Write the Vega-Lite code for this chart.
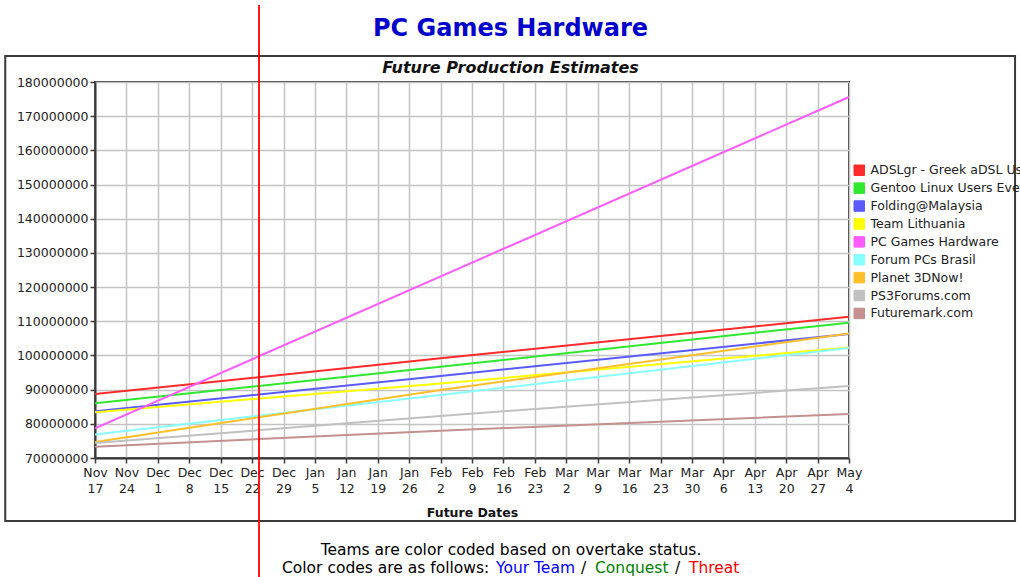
{
  "$schema": "https://vega.github.io/schema/vega-lite/v6.json",
  "width": 754,
  "height": 376,
  "autosize": "none",
  "padding": {"left": 95, "top": 82, "right": 171, "bottom": 119},
  "background": "white",
  "title": {
    "text": "PC Games Hardware",
    "subtitle": "Future Production Estimates",
    "anchor": "middle",
    "frame": "group",
    "dx": 38.5,
    "offset": -72,
    "font": "DejaVu Sans",
    "fontSize": 24,
    "fontWeight": "bold",
    "color": "#0000cc",
    "subtitleFont": "DejaVu Sans",
    "subtitleFontSize": 16,
    "subtitleFontWeight": "bold",
    "subtitleFontStyle": "italic",
    "subtitleColor": "#111111",
    "subtitlePadding": 19
  },
  "layer": [
    {
      "data": {"values": [{"frame": "box"}]},
      "mark": {"type": "rect", "fill": "white", "fillOpacity": 0, "stroke": "#3a3a3a", "strokeWidth": 2},
      "encoding": {
        "x": {"datum": {"year": 2008, "month": 10, "date": 28, "utc": true}, "type": "temporal"},
        "x2": {"datum": {"year": 2009, "month": 6, "date": 10, "utc": true}},
        "y": {"datum": 187600000, "type": "quantitative"},
        "y2": {"datum": 51600000}
      }
    },
    {
      "data": {
        "values": [
          {"team": "ADSLgr - Greek aDSL Users", "date": "2008-11-17", "value": 88700000},
          {"team": "ADSLgr - Greek aDSL Users", "date": "2009-02-02", "value": 99150000},
          {"team": "ADSLgr - Greek aDSL Users", "date": "2009-05-04", "value": 111300000},
          {"team": "Gentoo Linux Users Everywhere", "date": "2008-11-17", "value": 86000000},
          {"team": "Gentoo Linux Users Everywhere", "date": "2009-02-02", "value": 96700000},
          {"team": "Gentoo Linux Users Everywhere", "date": "2009-05-04", "value": 109600000},
          {"team": "Folding@Malaysia", "date": "2008-11-17", "value": 83700000},
          {"team": "Folding@Malaysia", "date": "2009-02-02", "value": 94000000},
          {"team": "Folding@Malaysia", "date": "2009-05-04", "value": 106300000},
          {"team": "Team Lithuania", "date": "2008-11-17", "value": 83400000},
          {"team": "Team Lithuania", "date": "2009-02-02", "value": 91800000},
          {"team": "Team Lithuania", "date": "2009-05-04", "value": 102300000},
          {"team": "PC Games Hardware", "date": "2008-11-17", "value": 78700000},
          {"team": "PC Games Hardware", "date": "2009-05-04", "value": 175600000},
          {"team": "Forum PCs Brasil", "date": "2008-11-17", "value": 76900000},
          {"team": "Forum PCs Brasil", "date": "2009-02-02", "value": 88400000},
          {"team": "Forum PCs Brasil", "date": "2009-05-04", "value": 102200000},
          {"team": "Planet 3DNow!", "date": "2008-11-17", "value": 74700000},
          {"team": "Planet 3DNow!", "date": "2009-02-02", "value": 89900000},
          {"team": "Planet 3DNow!", "date": "2009-05-04", "value": 106400000},
          {"team": "PS3Forums.com", "date": "2008-11-17", "value": 74400000},
          {"team": "PS3Forums.com", "date": "2009-02-02", "value": 82300000},
          {"team": "PS3Forums.com", "date": "2009-05-04", "value": 91100000},
          {"team": "Futuremark.com", "date": "2008-11-17", "value": 73300000},
          {"team": "Futuremark.com", "date": "2009-02-02", "value": 78000000},
          {"team": "Futuremark.com", "date": "2009-05-04", "value": 82900000}
        ]
      },
      "mark": {"type": "line", "strokeWidth": 2, "clip": true},
      "encoding": {
        "x": {
          "field": "date",
          "type": "temporal",
          "scale": {
            "type": "utc",
            "nice": false,
            "domain": [
              {"year": 2008, "month": 11, "date": 17, "utc": true},
              {"year": 2009, "month": 5, "date": 4, "utc": true}
            ]
          },
          "axis": {
            "title": "Future Dates",
            "tickCount": 100,
            "values": [
              {"year": 2008, "month": 11, "date": 17, "utc": true},
              {"year": 2008, "month": 11, "date": 24, "utc": true},
              {"year": 2008, "month": 12, "date": 1, "utc": true},
              {"year": 2008, "month": 12, "date": 8, "utc": true},
              {"year": 2008, "month": 12, "date": 15, "utc": true},
              {"year": 2008, "month": 12, "date": 22, "utc": true},
              {"year": 2008, "month": 12, "date": 29, "utc": true},
              {"year": 2009, "month": 1, "date": 5, "utc": true},
              {"year": 2009, "month": 1, "date": 12, "utc": true},
              {"year": 2009, "month": 1, "date": 19, "utc": true},
              {"year": 2009, "month": 1, "date": 26, "utc": true},
              {"year": 2009, "month": 2, "date": 2, "utc": true},
              {"year": 2009, "month": 2, "date": 9, "utc": true},
              {"year": 2009, "month": 2, "date": 16, "utc": true},
              {"year": 2009, "month": 2, "date": 23, "utc": true},
              {"year": 2009, "month": 3, "date": 2, "utc": true},
              {"year": 2009, "month": 3, "date": 9, "utc": true},
              {"year": 2009, "month": 3, "date": 16, "utc": true},
              {"year": 2009, "month": 3, "date": 23, "utc": true},
              {"year": 2009, "month": 3, "date": 30, "utc": true},
              {"year": 2009, "month": 4, "date": 6, "utc": true},
              {"year": 2009, "month": 4, "date": 13, "utc": true},
              {"year": 2009, "month": 4, "date": 20, "utc": true},
              {"year": 2009, "month": 4, "date": 27, "utc": true},
              {"year": 2009, "month": 5, "date": 4, "utc": true}
            ],
            "labelExpr": "[utcFormat(datum.value, '%b'), utcFormat(datum.value, '%-d')]",
            "labelLineHeight": 16,
            "labelPadding": 3,
            "labelAlign": "center",
            "labelBaseline": "top",
            "labelFlush": false,
            "labelOverlap": false,
            "titleFontWeight": "bold",
            "titlePadding": 12
          }
        },
        "y": {
          "field": "value",
          "type": "quantitative",
          "scale": {"domain": [70000000, 180000000], "nice": false, "zero": false},
          "axis": {
            "title": null,
            "tickCount": 100,
            "values": [70000000, 80000000, 90000000, 100000000, 110000000, 120000000, 130000000, 140000000, 150000000, 160000000, 170000000, 180000000],
            "format": "d",
            "labelPadding": 2,
            "labelFlush": false,
            "labelOverlap": false
          }
        },
        "color": {
          "field": "team",
          "type": "nominal",
          "scale": {
            "domain": ["ADSLgr - Greek aDSL Users", "Gentoo Linux Users Everywhere", "Folding@Malaysia", "Team Lithuania", "PC Games Hardware", "Forum PCs Brasil", "Planet 3DNow!", "PS3Forums.com", "Futuremark.com"],
            "range": ["#ff2a2a", "#2ee82e", "#5a5aff", "#ffff00", "#ff5cff", "#88ffff", "#ffbf2a", "#c0c0c0", "#c49090"]
          },
          "legend": {
            "orient": "none",
            "legendX": 758,
            "legendY": 82,
            "title": null,
            "symbolType": "square",
            "symbolSize": 110,
            "labelFont": "DejaVu Sans",
            "labelFontSize": 12.5,
            "labelColor": "#222222",
            "labelLimit": 0,
            "labelOffset": 5,
            "rowPadding": 2.9,
            "encode": {
              "symbols": {
                "update": {
                  "fill": {"scale": "color", "field": "value"},
                  "stroke": {"value": "#333333"},
                  "strokeWidth": {"value": 1},
                  "opacity": {"value": 1}
                }
              }
            }
          }
        }
      }
    },
    {
      "data": {"values": [{"marker": "now"}]},
      "mark": {"type": "rule", "color": "#ff0000", "strokeWidth": 1.8},
      "encoding": {
        "x": {"datum": {"year": 2008, "month": 12, "date": 23, "hours": 13, "utc": true}, "type": "temporal"},
        "y": {"datum": 202500000, "type": "quantitative"},
        "y2": {"datum": 34000000}
      }
    },
    {
      "data": {
        "values": [
          {"part": "Color codes are as follows:"},
          {"part": "Your Team"},
          {"part": "/"},
          {"part": "Conquest"},
          {"part": "/ "},
          {"part": "Threat"}
        ]
      },
      "mark": {"type": "text", "text": ""},
      "encoding": {
        "fill": {
          "field": "part",
          "type": "nominal",
          "scale": {
            "domain": ["Color codes are as follows:", "Your Team", "/", "Conquest", "/ ", "Threat"],
            "range": ["#000000", "#0000ff", "#000000", "#008000", "#000000", "#ff0000"]
          },
          "legend": {
            "orient": "none",
            "legendX": 187,
            "legendY": 461,
            "direction": "horizontal",
            "columns": 6,
            "title": "Teams are color coded based on overtake status.",
            "titleAnchor": "middle",
            "titleFont": "DejaVu Sans",
            "titleFontSize": 15.5,
            "titleFontWeight": "normal",
            "titleColor": "#000000",
            "titlePadding": 1,
            "titleLimit": 1000,
            "labelFont": "DejaVu Sans",
            "labelFontSize": 15.5,
            "labelLimit": 1000,
            "labelExpr": "trim(datum.label)",
            "labelOffset": -15.5,
            "symbolSize": 0,
            "symbolOpacity": 0,
            "symbolStrokeWidth": 0,
            "columnPadding": 6,
            "encode": {
              "labels": {"update": {"fill": {"scale": "fill", "field": "value"}}}
            }
          }
        }
      }
    }
  ],
  "config": {
    "view": {"stroke": "#3a3a3a", "strokeWidth": 2},
    "axis": {
      "labelFont": "DejaVu Sans",
      "labelFontSize": 12.5,
      "labelColor": "#222222",
      "titleFont": "DejaVu Sans",
      "titleFontSize": 12.5,
      "titleColor": "#111111",
      "tickColor": "#3a3a3a",
      "tickSize": 5,
      "tickWidth": 1.5,
      "domainColor": "#3a3a3a",
      "domainWidth": 2,
      "gridColor": "#c4c4c4",
      "gridWidth": 1.5,
      "grid": true
    },
    "legend": {"padding": 0}
  }
}
